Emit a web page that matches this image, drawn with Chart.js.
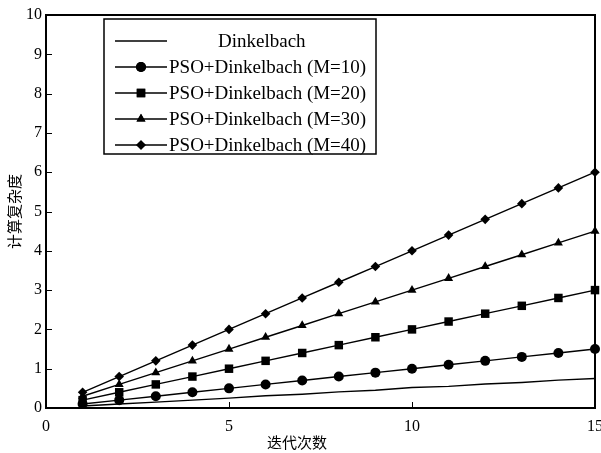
<!DOCTYPE html>
<html>
<head>
<meta charset="utf-8">
<script src="https://cdn.jsdelivr.net/npm/chart.js@4"></script>
<style>
  html, body { margin: 0; padding: 0; background: #fff; }
  #wrap { width: 601px; height: 453px; }
</style>
</head>
<body>
<div id="wrap"><canvas id="cplxChart" width="601" height="453"></canvas></div>
<script>
// iterations
const iters = [1, 2, 3, 4, 5, 6, 7, 8, 9, 10, 11, 12, 13, 14, 15];

// complexity values
const dinkelbach = [0.05, 0.1, 0.15, 0.2, 0.25, 0.31, 0.35, 0.41, 0.45, 0.52, 0.55, 0.61, 0.65, 0.71, 0.75];
const psoM10 = [0.1, 0.2, 0.3, 0.4, 0.5, 0.6, 0.7, 0.8, 0.9, 1.0, 1.1, 1.2, 1.3, 1.4, 1.5];
const psoM20 = [0.2, 0.4, 0.6, 0.8, 1.0, 1.2, 1.4, 1.6, 1.8, 2.0, 2.2, 2.4, 2.6, 2.8, 3.0];
const psoM30 = [0.3, 0.6, 0.9, 1.2, 1.5, 1.8, 2.1, 2.4, 2.7, 3.0, 3.3, 3.6, 3.9, 4.2, 4.5];
const psoM40 = [0.4, 0.8, 1.2, 1.6, 2.0, 2.4, 2.8, 3.2, 3.6, 4.0, 4.4, 4.8, 5.2, 5.6, 6.0];

const seriesNames = ["Dinkelbach", "PSO+Dinkelbach (M=10)", "PSO+Dinkelbach (M=20)", "PSO+Dinkelbach (M=30)", "PSO+Dinkelbach (M=40)"];

const xTicks = [0, 5, 10, 15];
const yTicks = [0, 1, 2, 3, 4, 5, 6, 7, 8, 9, 10];

const xTitle = "迭代次数";
const yTitle = "计算复杂度";

const serif = "'Liberation Serif', 'DejaVu Serif', serif";
const cjk = "'Noto Sans CJK SC', sans-serif";

function toPoints(vals) {
  return vals.map((v, i) => ({ x: iters[i], y: v }));
}

const markers = [
  { style: false, r: 0 },
  { style: "circle", r: 5 },
  { style: "rect", r: 6 },
  { style: "triangle", r: 5.2 },
  { style: "rectRot", r: 4.8 },
];

const allVals = [dinkelbach, psoM10, psoM20, psoM30, psoM40];

const datasets = allVals.map((vals, i) => ({
  label: seriesNames[i],
  data: toPoints(vals),
  borderColor: "#000",
  backgroundColor: "#000",
  borderWidth: 1.4,
  pointStyle: markers[i].style,
  pointRadius: markers[i].r,
  pointBackgroundColor: "#000",
  pointBorderColor: "#000",
  pointBorderWidth: 0,
  tension: 0,
  clip: false,
}));

// frame, inward ticks, axis titles and a boxed legend
const matlabLook = {
  id: "matlabLook",
  afterDraw(chart) {
    const ctx = chart.ctx;
    const a = chart.chartArea;
    const xs = chart.scales.x;
    const ys = chart.scales.y;
    ctx.save();
    ctx.strokeStyle = "#000";

    // ticks
    ctx.lineWidth = 1;
    ctx.beginPath();
    xTicks.forEach(t => {
      const px = Math.round(xs.getPixelForValue(t)) + 0.5;
      ctx.moveTo(px, a.bottom);
      ctx.lineTo(px, a.bottom - 6);
    });
    yTicks.forEach(t => {
      const py = Math.round(ys.getPixelForValue(t)) + 0.5;
      ctx.moveTo(a.left, py);
      ctx.lineTo(a.left + 6, py);
    });
    ctx.stroke();

    // box
    ctx.lineWidth = 2;
    ctx.strokeRect(a.left, a.top, a.right - a.left, a.bottom - a.top);

    // titles
    ctx.fillStyle = "#000";
    ctx.font = "15px " + cjk;
    ctx.textAlign = "center";
    ctx.textBaseline = "middle";
    ctx.fillText(xTitle, 297, 442);
    ctx.save();
    ctx.translate(14, (a.top + a.bottom) / 2);
    ctx.rotate(-Math.PI / 2);
    ctx.fillText(yTitle, 0, 0);
    ctx.restore();

    // legend
    const lx = 104, ly = 19, lw = 272, lh = 135;
    ctx.fillStyle = "#fff";
    ctx.fillRect(lx, ly, lw, lh);
    ctx.lineWidth = 1.5;
    ctx.strokeRect(lx, ly, lw, lh);
    ctx.font = "19px " + serif;
    ctx.textAlign = "left";
    chart.data.datasets.forEach((ds, i) => {
      const ry = 41 + i * 26;
      ctx.strokeStyle = "#000";
      ctx.lineWidth = 1.4;
      ctx.beginPath();
      ctx.moveTo(115, ry);
      ctx.lineTo(167, ry);
      ctx.stroke();
      if (ds.pointStyle) {
        ctx.fillStyle = "#000";
        Chart.helpers.drawPoint(ctx, { pointStyle: ds.pointStyle, radius: ds.pointRadius, rotation: 0, borderWidth: 0 }, 141, ry);
        ctx.fill();
      }
      ctx.fillStyle = "#000";
      ctx.fillText(ds.label, i === 0 ? 218 : 169, ry + 1);
    });
    ctx.restore();
  },
};

new Chart(document.getElementById("cplxChart").getContext("2d"), {
  type: "line",
  data: { datasets: datasets },
  options: {
    responsive: false,
    animation: false,
    layout: { padding: { left: 0, right: 3, top: 15, bottom: 0 } },
    plugins: {
      legend: { display: false },
      tooltip: { enabled: false },
    },
    scales: {
      x: {
        type: "linear",
        min: 0,
        max: 15,
        afterBuildTicks: s => { s.ticks = xTicks.map(v => ({ value: v })); },
        afterFit: s => { s.height = 45; s.paddingLeft = 0; s.paddingRight = 0; },
        ticks: { color: "#000", font: { family: serif, size: 16 }, padding: 9, maxRotation: 0 },
        grid: { drawOnChartArea: false, drawTicks: false },
        border: { display: false },
      },
      y: {
        type: "linear",
        min: 0,
        max: 10,
        afterBuildTicks: s => { s.ticks = yTicks.map(v => ({ value: v })); },
        afterFit: s => { s.width = 46; s.paddingTop = 0; s.paddingBottom = 0; },
        ticks: { color: "#000", font: { family: serif, size: 16 }, padding: 4 },
        grid: { drawOnChartArea: false, drawTicks: false },
        border: { display: false },
      },
    },
  },
  plugins: [matlabLook],
});
</script>
</body>
</html>
